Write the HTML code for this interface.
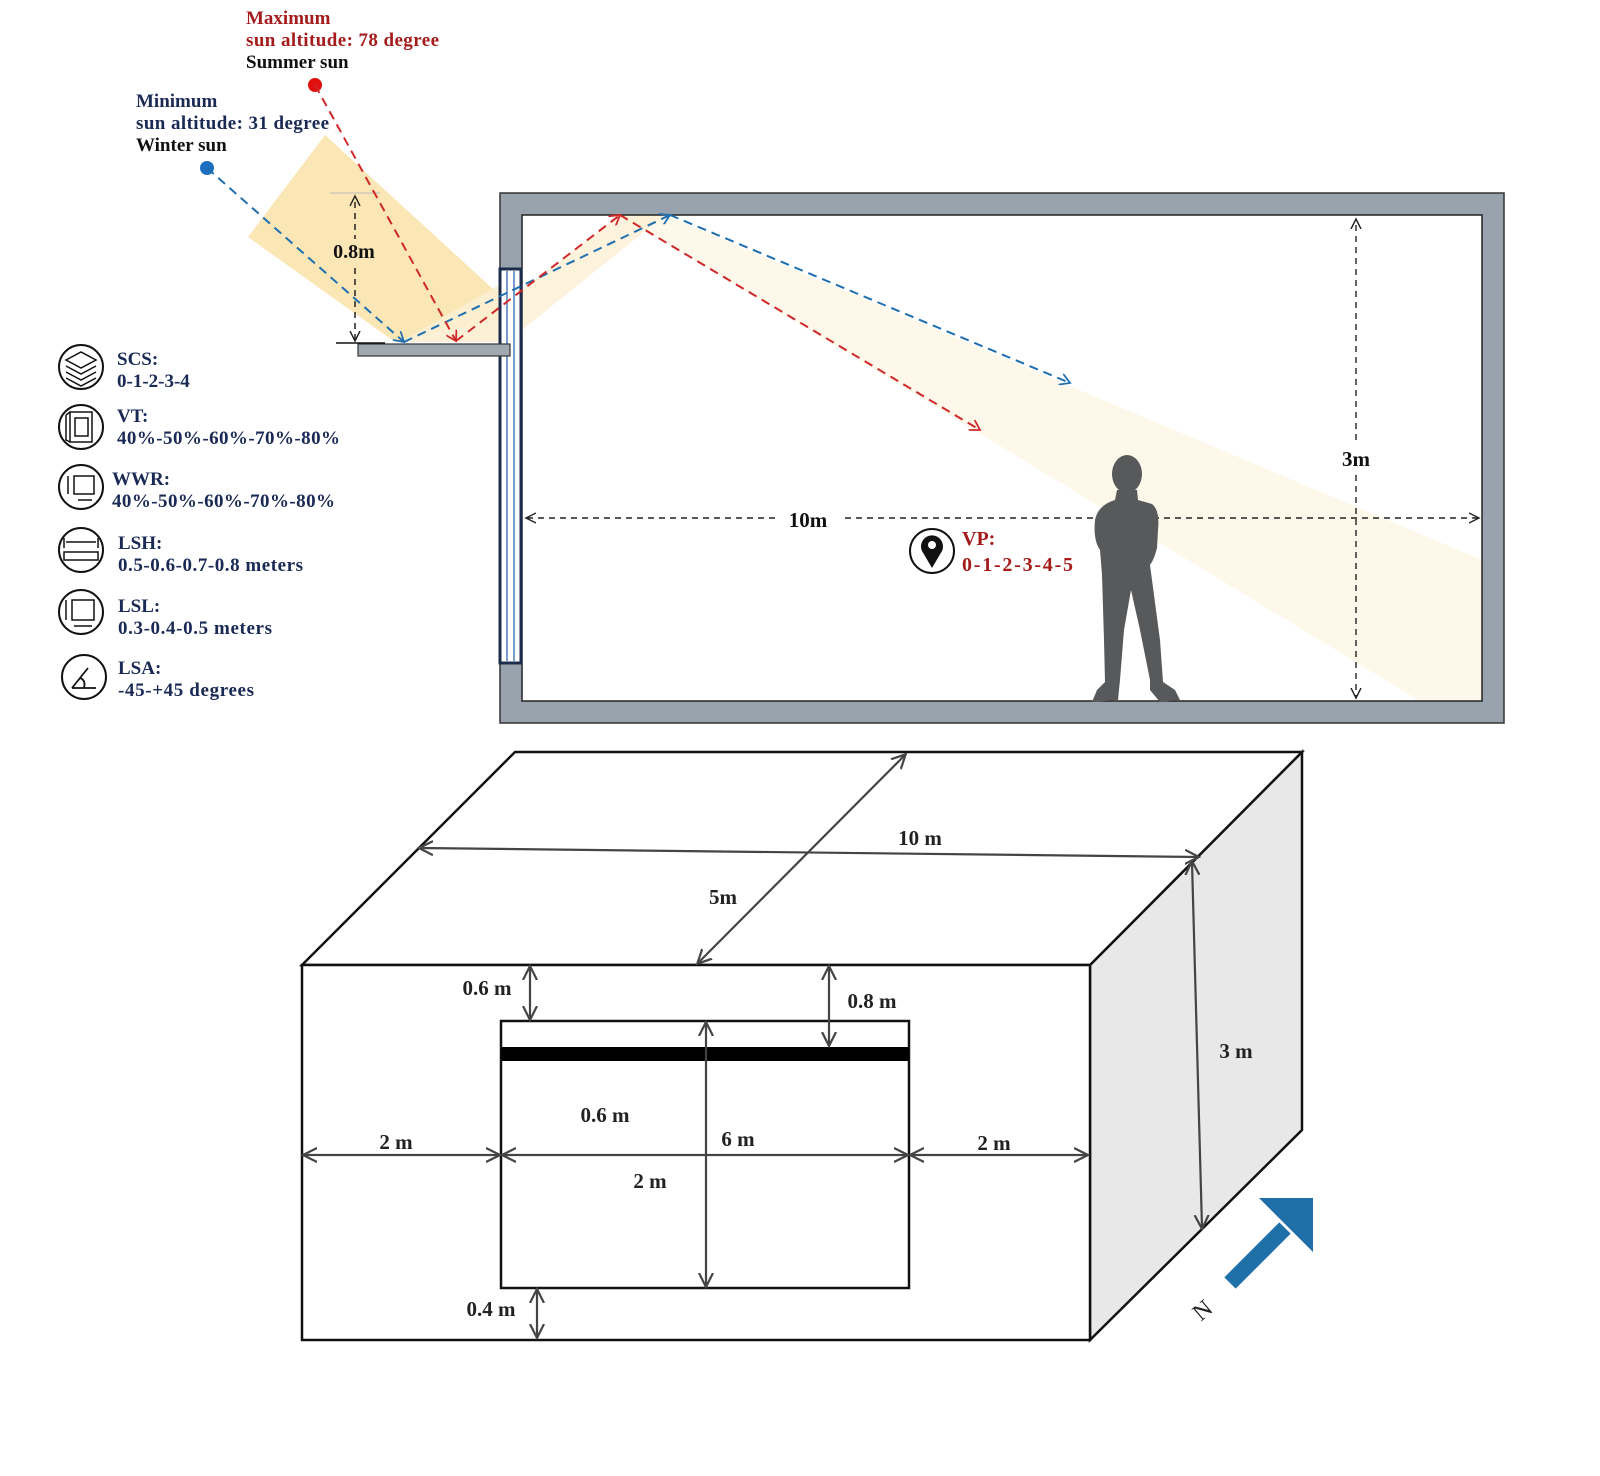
<!DOCTYPE html>
<html><head><meta charset="utf-8"><style>
html,body{margin:0;padding:0;background:#fff}
svg{display:block}
text{font-family:"Liberation Serif",serif;font-weight:bold}
</style></head><body>
<svg width="1600" height="1476" viewBox="0 0 1600 1476" xmlns="http://www.w3.org/2000/svg">
<defs>
<marker id="ab" markerWidth="12" markerHeight="12" refX="10" refY="6" orient="auto" markerUnits="userSpaceOnUse"><path d="M0,0 L10,6 L0,12" fill="none" stroke="#1f6fb0" stroke-width="1.8"/></marker>
<marker id="ar" markerWidth="12" markerHeight="12" refX="10" refY="6" orient="auto" markerUnits="userSpaceOnUse"><path d="M0,0 L10,6 L0,12" fill="none" stroke="#d0282a" stroke-width="1.8"/></marker>
<marker id="ak" markerWidth="12" markerHeight="12" refX="10" refY="6" orient="auto" markerUnits="userSpaceOnUse"><path d="M0,1 L10,6 L0,11" fill="none" stroke="#222" stroke-width="1.4"/></marker>
<marker id="ag" markerWidth="16" markerHeight="16" refX="13" refY="8" orient="auto-start-reverse" markerUnits="userSpaceOnUse"><path d="M0,1 L14,8 L0,15" fill="none" stroke="#444" stroke-width="2.2"/></marker>
</defs>

<polygon points="325,135 248,237 395,342 505,318 505,300" fill="#fbe6b5"/>
<polygon points="400,342 520,342 665,215 620,215" fill="#fcefd2" opacity="0.9"/>

<rect x="500" y="193" width="1004" height="530" fill="#99a3ad" stroke="#333" stroke-width="1.5"/>
<rect x="522" y="215" width="960" height="486" fill="#fff"/>
<polygon points="620,215 665,215 1482,560 1482,701 1420,701" fill="#fdf8ea"/>
<polygon points="522,290 522,330 665,215 620,215" fill="#fcefd2" opacity="0.8"/>
<rect x="522" y="215" width="960" height="486" fill="none" stroke="#222" stroke-width="1.5"/>
<rect x="500" y="269" width="21" height="394" fill="#fff" stroke="#1c2c4c" stroke-width="3"/>
<line x1="507" y1="271" x2="507" y2="661" stroke="#4a7ab8" stroke-width="1.5"/>
<line x1="514" y1="271" x2="514" y2="661" stroke="#4a7ab8" stroke-width="1.5"/>
<rect x="358" y="344" width="152" height="12" fill="#a0a8b0" stroke="#333" stroke-width="1.2"/>
<line x1="336" y1="343" x2="385" y2="343" stroke="#111" stroke-width="1.5"/>

<line x1="330" y1="193" x2="380" y2="193" stroke="#bbb" stroke-width="1"/>
<line x1="355" y1="340" x2="355" y2="196" stroke="#222" stroke-width="1.5" stroke-dasharray="6,5" marker-end="url(#ak)"/>
<line x1="355" y1="200" x2="355" y2="341" stroke="none" marker-end="url(#ak)"/>
<rect x="326" y="239" width="56" height="24" fill="#fbe6b5"/>
<text x="354" y="258" font-size="20" text-anchor="middle" fill="#111">0.8m</text>

<circle cx="207" cy="168" r="7" fill="#1f6fc0"/>
<circle cx="315" cy="85" r="7" fill="#e01010"/>
<line x1="207" y1="168" x2="404" y2="342" stroke="#1f6fb0" stroke-width="2" stroke-dasharray="9,6" marker-end="url(#ab)"/>
<line x1="404" y1="342" x2="670" y2="215" stroke="#1f6fb0" stroke-width="2" stroke-dasharray="9,6" marker-end="url(#ab)"/>
<line x1="670" y1="215" x2="1070" y2="383" stroke="#1f6fb0" stroke-width="2" stroke-dasharray="9,6" marker-end="url(#ab)"/>
<line x1="315" y1="85" x2="456" y2="341" stroke="#d0282a" stroke-width="2" stroke-dasharray="9,6" marker-end="url(#ar)"/>
<line x1="456" y1="341" x2="620" y2="215" stroke="#d0282a" stroke-width="2" stroke-dasharray="9,6" marker-end="url(#ar)"/>
<line x1="620" y1="215" x2="980" y2="430" stroke="#d0282a" stroke-width="2" stroke-dasharray="9,6" marker-end="url(#ar)"/>

<g font-size="19">
<text x="246" y="24" fill="#a51c1c">Maximum</text>
<text x="246" y="46" fill="#a51c1c" textLength="193">sun altitude: 78 degree</text>
<text x="246" y="68" fill="#111">Summer sun</text>
<text x="136" y="107" fill="#1a2a55">Minimum</text>
<text x="136" y="129" fill="#1a2a55" textLength="193">sun altitude: 31 degree</text>
<text x="136" y="151" fill="#111">Winter sun</text>
</g>

<line x1="775" y1="518" x2="526" y2="518" stroke="#222" stroke-width="1.4" stroke-dasharray="6,5" marker-end="url(#ak)"/>
<line x1="845" y1="518" x2="1479" y2="518" stroke="#222" stroke-width="1.4" stroke-dasharray="6,5" marker-end="url(#ak)"/>
<text x="808" y="527" font-size="21" text-anchor="middle" fill="#111">10m</text>
<line x1="1356" y1="440" x2="1356" y2="219" stroke="#222" stroke-width="1.4" stroke-dasharray="6,5" marker-end="url(#ak)"/>
<line x1="1356" y1="475" x2="1356" y2="698" stroke="#222" stroke-width="1.4" stroke-dasharray="6,5" marker-end="url(#ak)"/>
<text x="1356" y="466" font-size="21" text-anchor="middle" fill="#111">3m</text>

<g fill="#58595b">
<ellipse cx="1127" cy="474" rx="15" ry="19"/>
<path d="M1117,490 L1137,490 L1138,500 L1152,504 Q1160,510 1158,530 L1157,548 Q1154,560 1150,565 L1152,580 L1160,640 L1163,682 L1175,690 L1180,700 L1160,702 L1150,690 L1150,680 L1140,630 L1131,590 L1124,630 L1120,680 L1118,700 L1092,702 L1097,690 L1105,682 L1104,640 L1102,575 L1100,550 Q1093,540 1095,520 Q1098,505 1115,500 Z"/>
</g>

<circle cx="932" cy="551" r="22" fill="#fff" stroke="#111" stroke-width="2"/>
<path d="M932,568 L922,551 A11,11 0 1 1 942,551 Z" fill="#111"/>
<circle cx="932" cy="545" r="4" fill="#fff"/>
<text x="962" y="545" font-size="20" fill="#a51c1c">VP:</text>
<text x="962" y="571" font-size="20" fill="#a51c1c" textLength="111">0-1-2-3-4-5</text>

<g fill="none" stroke="#111" stroke-width="2">
<circle cx="81" cy="367" r="22"/>
<path d="M66,360 L81,352 L96,360 L81,368 Z M66,366 L81,374 L96,366 M66,372 L81,380 L96,372 M66,378 L81,386 L96,378" stroke-width="1.5"/>
<circle cx="81" cy="427" r="22"/>
<path d="M70,412 L92,412 L92,442 L70,442 Z M66,415 L70,412 M66,415 L66,440 L70,442 M75,418 L88,418 L88,436 L75,436 Z" stroke-width="1.5"/>
<circle cx="81" cy="487" r="22"/>
<path d="M74,476 L94,476 L94,494 L74,494 Z M68,476 L68,494 M78,500 L92,500" stroke-width="1.5"/>
<circle cx="81" cy="550" r="22"/>
<path d="M64,552 L98,552 L98,560 L64,560 Z M66,542 L96,542 M64,538 L64,548 M98,538 L98,548" stroke-width="1.5"/>
<circle cx="81" cy="612" r="22"/>
<path d="M72,600 L94,600 L94,620 L72,620 Z M66,600 L66,620 M74,626 L92,626" stroke-width="1.5"/>
<circle cx="84" cy="677" r="22"/>
<path d="M72,688 L96,688 M72,688 L88,668 M80,678 Q86,680 84,688" stroke-width="1.8"/>
</g>
<g font-size="19" fill="#1a2a55">
<text x="117" y="365">SCS:</text><text x="117" y="387">0-1-2-3-4</text>
<text x="117" y="422">VT:</text><text x="117" y="444" textLength="223">40%-50%-60%-70%-80%</text>
<text x="112" y="485">WWR:</text><text x="112" y="507" textLength="223">40%-50%-60%-70%-80%</text>
<text x="118" y="549">LSH:</text><text x="118" y="571" textLength="185">0.5-0.6-0.7-0.8 meters</text>
<text x="118" y="612">LSL:</text><text x="118" y="634" textLength="154">0.3-0.4-0.5 meters</text>
<text x="118" y="674">LSA:</text><text x="118" y="696" textLength="136">-45-+45 degrees</text>
</g>

<polygon points="1090,965 1302,752 1302,1130 1090,1340" fill="#e8e8e8" stroke="#111" stroke-width="2.5"/>
<polygon points="302,965 515,752 1302,752 1090,965" fill="#fff" stroke="#111" stroke-width="2.5"/>
<rect x="302" y="965" width="788" height="375" fill="#fff" stroke="#111" stroke-width="2.5"/>
<rect x="501" y="1021" width="408" height="267" fill="#fff" stroke="#111" stroke-width="2.5"/>
<rect x="501" y="1047" width="408" height="14" fill="#000"/>

<g stroke="#444" stroke-width="2.2" fill="none">
<line x1="420" y1="848" x2="1198" y2="857" marker-start="url(#ag)" marker-end="url(#ag)"/>
<line x1="905" y1="755" x2="698" y2="963" marker-start="url(#ag)" marker-end="url(#ag)"/>
<line x1="1192" y1="862" x2="1202" y2="1228" marker-start="url(#ag)" marker-end="url(#ag)"/>
<line x1="530" y1="967" x2="530" y2="1019" marker-start="url(#ag)" marker-end="url(#ag)"/>
<line x1="829" y1="967" x2="829" y2="1045" marker-start="url(#ag)" marker-end="url(#ag)"/>
<line x1="706" y1="1023" x2="706" y2="1286" marker-start="url(#ag)" marker-end="url(#ag)"/>
<line x1="304" y1="1155" x2="499" y2="1155" marker-start="url(#ag)" marker-end="url(#ag)"/>
<line x1="503" y1="1155" x2="907" y2="1155" marker-start="url(#ag)" marker-end="url(#ag)"/>
<line x1="911" y1="1155" x2="1087" y2="1155" marker-start="url(#ag)" marker-end="url(#ag)"/>
<line x1="537" y1="1290" x2="537" y2="1337" marker-start="url(#ag)" marker-end="url(#ag)"/>
</g>
<g font-size="21" fill="#222" text-anchor="middle">
<text x="920" y="845">10 m</text>
<text x="723" y="904">5m</text>
<text x="1236" y="1058">3 m</text>
<text x="487" y="995">0.6 m</text>
<text x="872" y="1008">0.8 m</text>
<text x="605" y="1122">0.6 m</text>
<text x="738" y="1146">6 m</text>
<text x="396" y="1149">2 m</text>
<text x="650" y="1188">2 m</text>
<text x="994" y="1150">2 m</text>
<text x="491" y="1316">0.4 m</text>
</g>

<line x1="1230" y1="1283" x2="1285" y2="1228" stroke="#1f6fa8" stroke-width="16"/>
<polygon points="1313,1198 1313,1252 1259,1198" fill="#1f6fa8"/>
<text x="1203" y="1318" font-size="24" fill="#222" text-anchor="middle" transform="rotate(-40 1203 1311)" style="font-weight:normal">N</text>
</svg>
</body></html>
